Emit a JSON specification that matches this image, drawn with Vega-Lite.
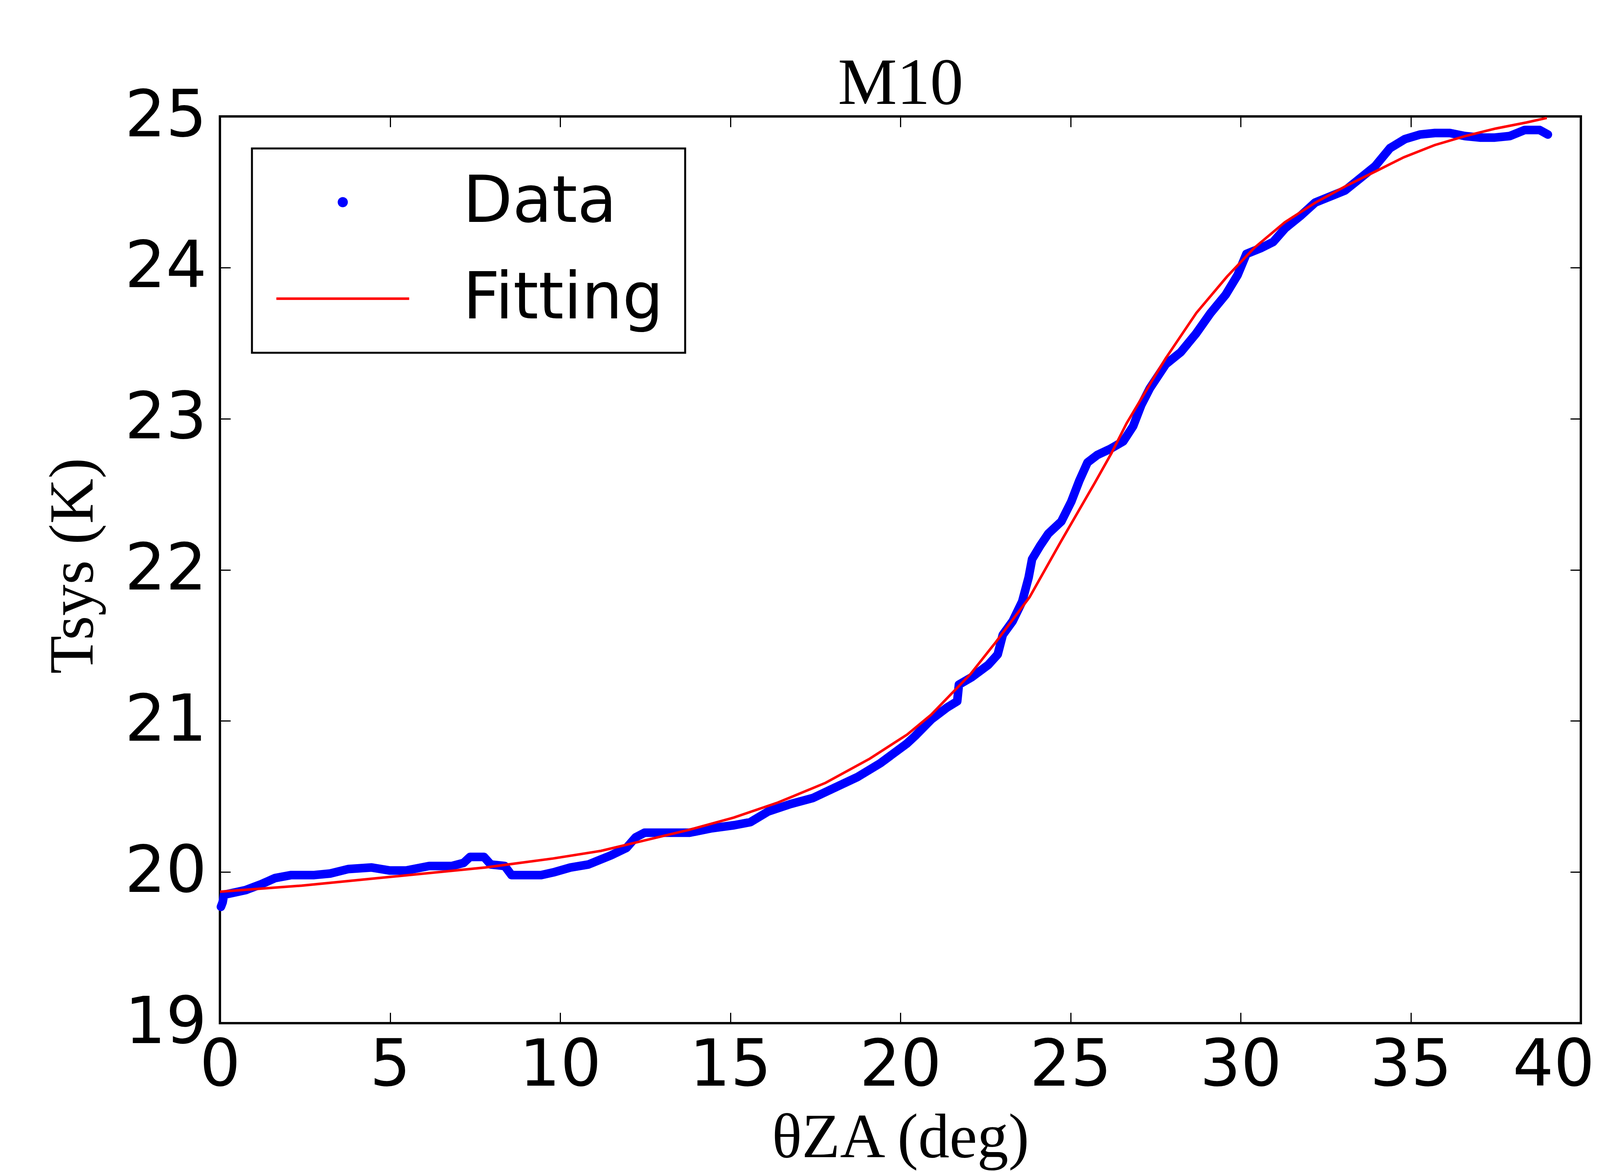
{
  "$schema": "https://vega.github.io/schema/vega-lite/v6.json",
  "width": 4500,
  "height": 3000,
  "autosize": {"type": "fit", "contains": "padding"},
  "padding": {"left": 108, "top": 129, "right": 418, "bottom": 7},
  "datasets": {
    "measured": [
      {"za": 0.03, "tsys": 19.77, "series": "Data"},
      {"za": 0.08, "tsys": 19.8, "series": "Data"},
      {"za": 0.12, "tsys": 19.85, "series": "Data"},
      {"za": 0.34, "tsys": 19.86, "series": "Data"},
      {"za": 0.75, "tsys": 19.88, "series": "Data"},
      {"za": 1.22, "tsys": 19.92, "series": "Data"},
      {"za": 1.62, "tsys": 19.96, "series": "Data"},
      {"za": 2.1, "tsys": 19.98, "series": "Data"},
      {"za": 2.77, "tsys": 19.98, "series": "Data"},
      {"za": 3.24, "tsys": 19.99, "series": "Data"},
      {"za": 3.78, "tsys": 20.02, "series": "Data"},
      {"za": 4.46, "tsys": 20.03, "series": "Data"},
      {"za": 5.0, "tsys": 20.01, "series": "Data"},
      {"za": 5.47, "tsys": 20.01, "series": "Data"},
      {"za": 6.15, "tsys": 20.04, "series": "Data"},
      {"za": 6.82, "tsys": 20.04, "series": "Data"},
      {"za": 7.16, "tsys": 20.06, "series": "Data"},
      {"za": 7.35, "tsys": 20.1, "series": "Data"},
      {"za": 7.76, "tsys": 20.1, "series": "Data"},
      {"za": 7.96, "tsys": 20.05, "series": "Data"},
      {"za": 8.37, "tsys": 20.04, "series": "Data"},
      {"za": 8.57, "tsys": 19.98, "series": "Data"},
      {"za": 9.17, "tsys": 19.98, "series": "Data"},
      {"za": 9.44, "tsys": 19.98, "series": "Data"},
      {"za": 9.84, "tsys": 20.0, "series": "Data"},
      {"za": 10.3, "tsys": 20.03, "series": "Data"},
      {"za": 10.83, "tsys": 20.05, "series": "Data"},
      {"za": 11.49, "tsys": 20.11, "series": "Data"},
      {"za": 11.95, "tsys": 20.16, "series": "Data"},
      {"za": 12.22, "tsys": 20.23, "series": "Data"},
      {"za": 12.48, "tsys": 20.26, "series": "Data"},
      {"za": 13.14, "tsys": 20.26, "series": "Data"},
      {"za": 13.8, "tsys": 20.26, "series": "Data"},
      {"za": 14.46, "tsys": 20.29, "series": "Data"},
      {"za": 15.12, "tsys": 20.31, "series": "Data"},
      {"za": 15.59, "tsys": 20.33, "series": "Data"},
      {"za": 16.11, "tsys": 20.4, "series": "Data"},
      {"za": 16.77, "tsys": 20.45, "series": "Data"},
      {"za": 17.43, "tsys": 20.49, "series": "Data"},
      {"za": 18.09, "tsys": 20.56, "series": "Data"},
      {"za": 18.75, "tsys": 20.63, "series": "Data"},
      {"za": 19.41, "tsys": 20.72, "series": "Data"},
      {"za": 20.19, "tsys": 20.85, "series": "Data"},
      {"za": 20.43, "tsys": 20.9, "series": "Data"},
      {"za": 20.91, "tsys": 21.01, "series": "Data"},
      {"za": 21.38, "tsys": 21.09, "series": "Data"},
      {"za": 21.67, "tsys": 21.13, "series": "Data"},
      {"za": 21.72, "tsys": 21.24, "series": "Data"},
      {"za": 22.1, "tsys": 21.29, "series": "Data"},
      {"za": 22.58, "tsys": 21.37, "series": "Data"},
      {"za": 22.86, "tsys": 21.44, "series": "Data"},
      {"za": 23.01, "tsys": 21.57, "series": "Data"},
      {"za": 23.3, "tsys": 21.66, "series": "Data"},
      {"za": 23.58, "tsys": 21.79, "series": "Data"},
      {"za": 23.77, "tsys": 21.95, "series": "Data"},
      {"za": 23.87, "tsys": 22.07, "series": "Data"},
      {"za": 24.11, "tsys": 22.16, "series": "Data"},
      {"za": 24.35, "tsys": 22.24, "series": "Data"},
      {"za": 24.73, "tsys": 22.32, "series": "Data"},
      {"za": 25.02, "tsys": 22.45, "series": "Data"},
      {"za": 25.26, "tsys": 22.59, "series": "Data"},
      {"za": 25.5, "tsys": 22.71, "series": "Data"},
      {"za": 25.79, "tsys": 22.76, "series": "Data"},
      {"za": 26.17, "tsys": 22.8, "series": "Data"},
      {"za": 26.55, "tsys": 22.85, "series": "Data"},
      {"za": 26.84, "tsys": 22.95, "series": "Data"},
      {"za": 27.08, "tsys": 23.09, "series": "Data"},
      {"za": 27.33, "tsys": 23.2, "series": "Data"},
      {"za": 27.8, "tsys": 23.36, "series": "Data"},
      {"za": 28.24, "tsys": 23.44, "series": "Data"},
      {"za": 28.68, "tsys": 23.56, "series": "Data"},
      {"za": 29.12, "tsys": 23.7, "series": "Data"},
      {"za": 29.56, "tsys": 23.82, "series": "Data"},
      {"za": 29.91, "tsys": 23.95, "series": "Data"},
      {"za": 30.17, "tsys": 24.09, "series": "Data"},
      {"za": 30.61, "tsys": 24.13, "series": "Data"},
      {"za": 30.96, "tsys": 24.17, "series": "Data"},
      {"za": 31.31, "tsys": 24.26, "series": "Data"},
      {"za": 31.75, "tsys": 24.34, "series": "Data"},
      {"za": 32.19, "tsys": 24.43, "series": "Data"},
      {"za": 32.63, "tsys": 24.47, "series": "Data"},
      {"za": 33.07, "tsys": 24.51, "series": "Data"},
      {"za": 33.51, "tsys": 24.59, "series": "Data"},
      {"za": 33.95, "tsys": 24.67, "series": "Data"},
      {"za": 34.39, "tsys": 24.79, "series": "Data"},
      {"za": 34.83, "tsys": 24.85, "series": "Data"},
      {"za": 35.27, "tsys": 24.88, "series": "Data"},
      {"za": 35.71, "tsys": 24.89, "series": "Data"},
      {"za": 36.15, "tsys": 24.89, "series": "Data"},
      {"za": 36.59, "tsys": 24.87, "series": "Data"},
      {"za": 37.03, "tsys": 24.86, "series": "Data"},
      {"za": 37.47, "tsys": 24.86, "series": "Data"},
      {"za": 37.91, "tsys": 24.87, "series": "Data"},
      {"za": 38.35, "tsys": 24.91, "series": "Data"},
      {"za": 38.79, "tsys": 24.91, "series": "Data"},
      {"za": 39.03, "tsys": 24.88, "series": "Data"}
    ],
    "fitting": [
      {"za": 0.0, "tsys": 19.87, "series": "Fitting"},
      {"za": 2.4, "tsys": 19.91, "series": "Fitting"},
      {"za": 5.1, "tsys": 19.97, "series": "Fitting"},
      {"za": 7.8, "tsys": 20.03, "series": "Fitting"},
      {"za": 9.8, "tsys": 20.09, "series": "Fitting"},
      {"za": 11.2, "tsys": 20.14, "series": "Fitting"},
      {"za": 12.5, "tsys": 20.21, "series": "Fitting"},
      {"za": 13.8, "tsys": 20.28, "series": "Fitting"},
      {"za": 15.1, "tsys": 20.36, "series": "Fitting"},
      {"za": 16.4, "tsys": 20.46, "series": "Fitting"},
      {"za": 17.8, "tsys": 20.59, "series": "Fitting"},
      {"za": 19.1, "tsys": 20.75, "series": "Fitting"},
      {"za": 20.2, "tsys": 20.91, "series": "Fitting"},
      {"za": 20.9, "tsys": 21.04, "series": "Fitting"},
      {"za": 22.06, "tsys": 21.31, "series": "Fitting"},
      {"za": 22.8, "tsys": 21.52, "series": "Fitting"},
      {"za": 23.8, "tsys": 21.82, "series": "Fitting"},
      {"za": 24.7, "tsys": 22.18, "series": "Fitting"},
      {"za": 25.7, "tsys": 22.57, "series": "Fitting"},
      {"za": 26.2, "tsys": 22.77, "series": "Fitting"},
      {"za": 26.65, "tsys": 22.97, "series": "Fitting"},
      {"za": 27.5, "tsys": 23.29, "series": "Fitting"},
      {"za": 27.8, "tsys": 23.4, "series": "Fitting"},
      {"za": 28.7, "tsys": 23.7, "series": "Fitting"},
      {"za": 29.6, "tsys": 23.94, "series": "Fitting"},
      {"za": 30.4, "tsys": 24.13, "series": "Fitting"},
      {"za": 31.3, "tsys": 24.3, "series": "Fitting"},
      {"za": 32.2, "tsys": 24.43, "series": "Fitting"},
      {"za": 33.1, "tsys": 24.54, "series": "Fitting"},
      {"za": 34.0, "tsys": 24.64, "series": "Fitting"},
      {"za": 34.8, "tsys": 24.73, "series": "Fitting"},
      {"za": 35.7, "tsys": 24.81, "series": "Fitting"},
      {"za": 36.6, "tsys": 24.87, "series": "Fitting"},
      {"za": 37.5, "tsys": 24.92, "series": "Fitting"},
      {"za": 38.4, "tsys": 24.96, "series": "Fitting"},
      {"za": 39.0, "tsys": 24.99, "series": "Fitting"}
    ]
  },
  "layer": [
    {
      "data": {"name": "measured"},
      "mark": {"type": "line", "strokeWidth": 22, "strokeCap": "round", "strokeJoin": "round"},
      "encoding": {
        "x": {
          "field": "za", "type": "quantitative",
          "scale": {"domain": [0, 40], "nice": false, "zero": false},
          "axis": {
            "orient": "bottom",
            "values": [0, 5, 10, 15, 20, 25, 30, 35, 40],
            "title": "θZA (deg)",
            "titleFont": "Liberation Serif", "titleFontSize": 160, "titleFontWeight": "normal",
            "titleColor": "black",
            "titleAnchor": "middle", "titleBaseline": "alphabetic", "titleY": 342,
            "labelFont": "DejaVu Sans", "labelFontSize": 165, "labelColor": "black",
            "labelPadding": 56, "labelFlush": false, "labelOverlap": false, "labelLimit": 1000,
            "labelAlign": {"condition": {"test": "datum.value === 40", "value": "right"}, "value": "center"},
            "labelOffset": {"condition": {"test": "datum.value === 40", "value": 35}, "value": 0},
            "tickSize": -27, "tickWidth": 3, "tickColor": "black",
            "grid": false, "domain": false
          }
        },
        "y": {
          "field": "tsys", "type": "quantitative",
          "scale": {"domain": [19, 25], "nice": false, "zero": false},
          "axis": {
            "orient": "left",
            "values": [19, 20, 21, 22, 23, 24, 25],
            "title": "Tsys (K)",
            "titleFont": "Liberation Serif", "titleFontSize": 160, "titleFontWeight": "normal",
            "titleColor": "black",
            "titleAngle": 270, "titleAlign": "center", "titleBaseline": "alphabetic",
            "titleX": -327, "titleY": 1150,
            "labelFont": "DejaVu Sans", "labelFontSize": 165, "labelColor": "black",
            "labelPadding": 61, "labelFlush": false, "labelOverlap": false, "labelLimit": 1000,
            "tickSize": -27, "tickWidth": 3, "tickColor": "black",
            "grid": false, "domain": false
          }
        },
        "color": {
          "field": "series", "type": "nominal",
          "scale": {"domain": ["Data", "Fitting"], "range": ["#0000ff", "#ff0000"]},
          "legend": {
            "title": null,
            "orient": "top-left",
            "offset": 82,
            "padding": 55,
            "fillColor": "white",
            "strokeColor": "black",
            "labelFont": "DejaVu Sans",
            "labelFontSize": 165,
            "labelColor": "black",
            "labelLimit": 2000,
            "labelOffset": 225,
            "rowPadding": 81,
            "symbolSize": 12844,
            "symbolOffset": 95,
            "symbolStrokeWidth": 6,
            "encode": {
              "legend": {"update": {"strokeWidth": {"value": 5}}},
              "symbols": {
                "update": {
                  "shape": {"signal": "datum.value === 'Data' ? 'circle' : 'M-3,0H3'"},
                  "size": {"signal": "datum.value === 'Data' ? 380 : 12844"},
                  "fill": {"signal": "datum.value === 'Data' ? '#0000ff' : 'transparent'"},
                  "stroke": {"signal": "datum.value === 'Data' ? 'transparent' : '#ff0000'"},
                  "strokeWidth": {"value": 6.5},
                  "opacity": {"value": 1}
                }
              }
            }
          }
        }
      }
    },
    {
      "data": {"name": "fitting"},
      "mark": {"type": "line", "strokeWidth": 6.5},
      "encoding": {
        "x": {
          "field": "za", "type": "quantitative",
          "axis": {
            "orient": "top",
            "values": [0, 5, 10, 15, 20, 25, 30, 35, 40],
            "title": "M10",
            "titleFont": "Liberation Serif", "titleFontSize": 170, "titleFontWeight": "normal",
            "titleColor": "black",
            "titleAngle": 0, "titleAlign": "center", "titleBaseline": "alphabetic",
            "titleX": 1742, "titleY": -33,
            "labels": false,
            "tickSize": -27, "tickWidth": 3, "tickColor": "black",
            "grid": false, "domain": false
          }
        },
        "y": {
          "field": "tsys", "type": "quantitative",
          "axis": {
            "orient": "right",
            "values": [19, 20, 21, 22, 23, 24, 25],
            "title": null, "labels": false,
            "tickSize": -27, "tickWidth": 3, "tickColor": "black",
            "grid": false, "domain": false
          }
        },
        "color": {"field": "series", "type": "nominal"}
      }
    }
  ],
  "resolve": {"axis": {"x": "independent", "y": "independent"}},
  "config": {
    "background": "white",
    "view": {"stroke": "black", "strokeWidth": 6}
  }
}
